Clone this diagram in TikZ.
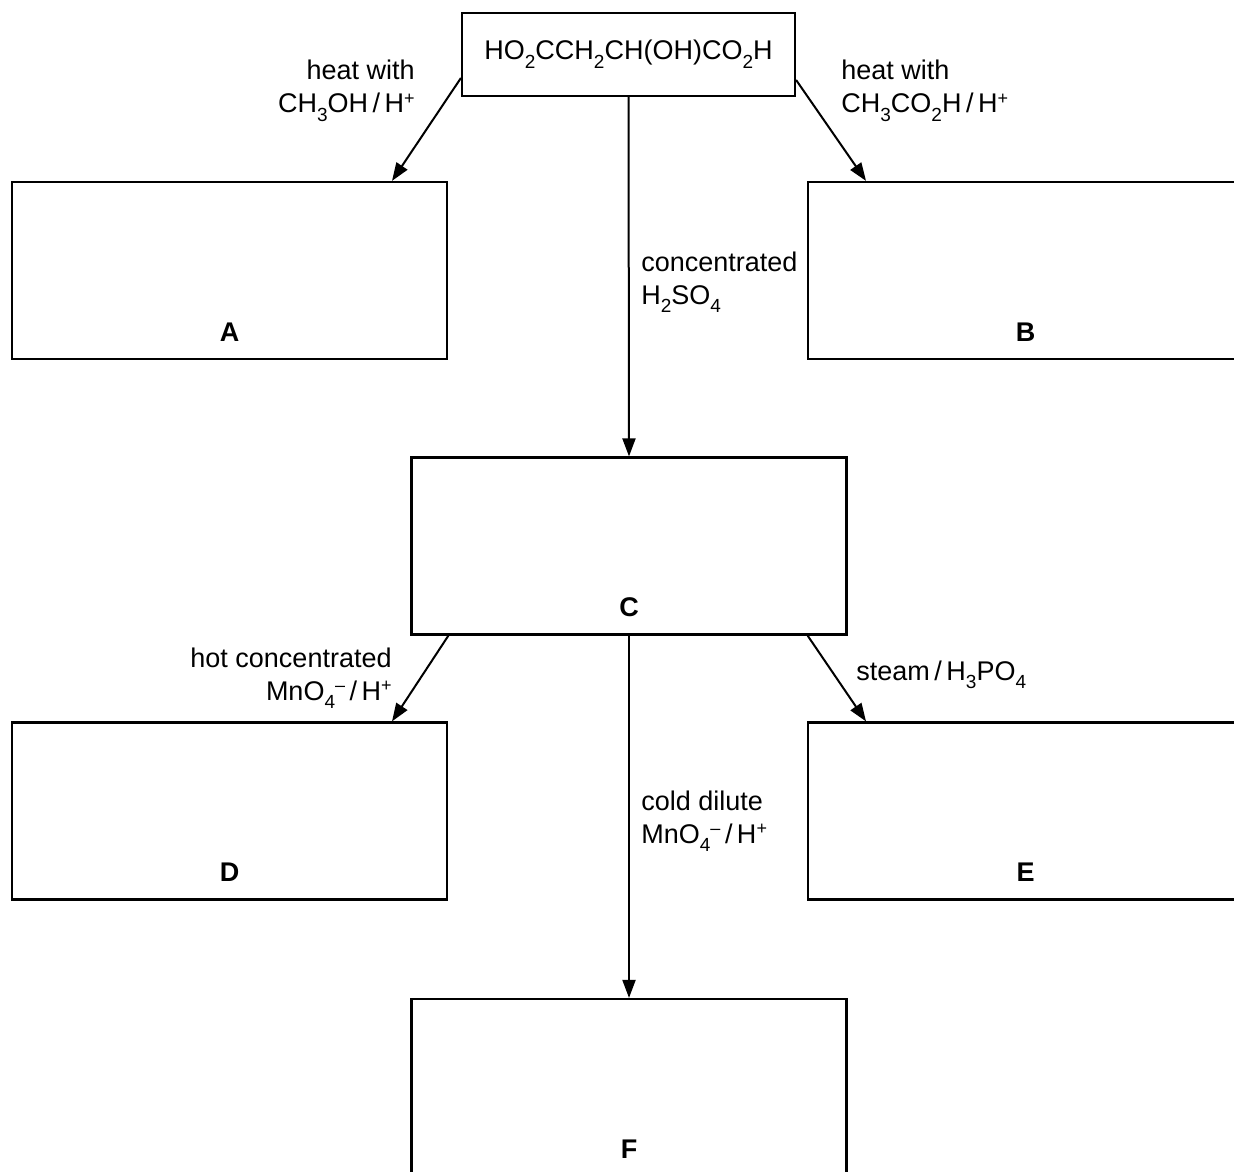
\documentclass[tikz,border=0pt]{standalone}
\usepackage{fontspec}
\setmainfont{Liberation Sans}
\usetikzlibrary{arrows.meta}
\newcommand{\sbs}[1]{\raisebox{-0.6ex}{\fontsize{9.5}{10}\selectfont #1}}
\newcommand{\sps}[1]{\raisebox{0.6ex}{\fontsize{9}{10}\selectfont #1}}
\begin{document}
\begin{tikzpicture}[x=0.5pt,y=-0.5pt,
 box/.style={draw, line width=1.1pt, minimum width=217.5pt, minimum height=88.5pt, inner sep=0pt},
 topbox/.style={draw, line width=1.1pt, minimum width=166.5pt, minimum height=41.5pt, inner sep=0pt, font=\fontsize{13.5}{16.5}\selectfont},
 lbl/.style={font=\fontsize{13.5}{16.5}\selectfont, inner sep=0pt},
 letter/.style={font=\fontsize{13.5}{16}\selectfont\bfseries, inner sep=0pt},
 arr/.style={line width=1pt, -{Triangle[length=9pt,width=6.5pt]}}]
\useasboundingbox (0,0) rectangle (1234,1171);
\node[topbox] (top) at (628.5,54.5) {HO\sbs{2}CCH\sbs{2}CH(OH)CO\sbs{2}H};
\node[box] (A) at (229.5,270.5) {};
\node[box] (B) at (1025.5,270.5) {};
\node[box] (C) at (629,546) {};
\node[box] (D) at (229.5,811) {};
\node[box] (E) at (1025.5,811) {};
\node[box] (F) at (629,1087.5) {};
\node[letter] (Al) at ([yshift=14pt]A.south) {A};
\node[letter] (Bl) at ([yshift=14pt]B.south) {B};
\node[letter] (Cl) at ([yshift=14pt]C.south) {C};
\node[letter] (Dl) at ([yshift=14pt]D.south) {D};
\node[letter] (El) at ([yshift=14pt]E.south) {E};
\node[letter] (Fl) at ([yshift=14pt]F.south) {F};
\draw[arr] ([yshift=-11.75pt]top.west) -- ([xshift=81.25pt]A.north);
\draw[arr] ([yshift=-12.75pt]top.east) -- ([xshift=-79.75pt]B.north);
\draw[arr] (top.south) -- (C.north);
\draw[arr] ([xshift=19pt]C.south west) -- ([xshift=81.25pt]D.north);
\draw[arr] ([xshift=-20pt]C.south east) -- ([xshift=-79.75pt]E.north);
\draw[arr] (C.south) -- (F.north);
\node[lbl, align=right, anchor=east] (l1) at (415,91) {heat with\\CH\sbs{3}OH\,/\,H\sps{+}};
\node[lbl, align=left, anchor=west] (l2) at (841,91) {heat with\\CH\sbs{3}CO\sbs{2}H\,/\,H\sps{+}};
\node[lbl, align=left, anchor=west] (l3) at (641,282) {concentrated\\H\sbs{2}SO\sbs{4}};
\node[lbl, align=right, anchor=east] (l4) at (392,678) {hot concentrated\\MnO\sbs{4}\sps{–}\,/\,H\sps{+}};
\node[lbl, anchor=west] (l5) at (856,675) {steam\,/\,H\sbs{3}PO\sbs{4}};
\node[lbl, align=left, anchor=west] (l6) at (641,821) {cold dilute\\MnO\sbs{4}\sps{–}\,/\,H\sps{+}};
\end{tikzpicture}
\end{document}
